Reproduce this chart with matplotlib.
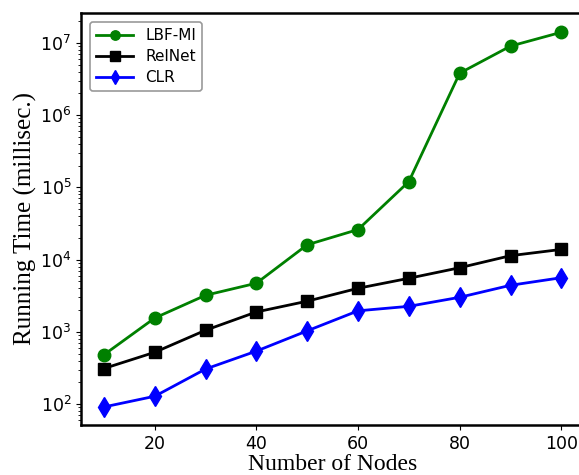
import matplotlib.pyplot as plt

nodes = [10, 20, 30, 40, 50, 60, 70, 80, 90, 100]
lbf_mi = [480, 1550, 3200, 4700, 16000, 26000, 120000, 3800000, 9000000, 14000000]
relnet = [310, 520, 1050, 1880, 2650, 4000, 5500, 7700, 11300, 13800]
clr = [91, 128, 305, 540, 1030, 1950, 2250, 3000, 4400, 5600]

fig = plt.figure(figsize=(5.79, 4.75), dpi=100)
ax = fig.add_axes([0.14, 0.105, 0.869, 0.868])

ax.plot(nodes, lbf_mi, color="green", marker="o", markersize=9, linewidth=2, label="LBF-MI")
ax.plot(nodes, relnet, color="black", marker="s", markersize=9, linewidth=2, label="RelNet")
ax.plot(nodes, clr, color="blue", marker="d", markersize=10, linewidth=2, label="CLR")

ax.set_yscale("log")
ax.set_ylim(51, 2.6e7)
ax.set_xticks([20, 40, 60, 80, 100])
ax.tick_params(labelsize=12.5)
for s in ax.spines.values():
    s.set_linewidth(1.8)

ax.set_xlabel("Number of Nodes", family="Liberation Serif", fontsize=17, labelpad=1)
ax.set_ylabel("Running Time (millisec.)", family="Liberation Serif", fontsize=18, labelpad=2)
leg = ax.legend(loc="upper left", fontsize=11, handlelength=2.4, markerscale=0.75,
                borderaxespad=0.6, labelspacing=0.4)
leg.get_frame().set_edgecolor("0.5")
leg.get_frame().set_linewidth(1.2)

fig.savefig("out.png", dpi=100)
